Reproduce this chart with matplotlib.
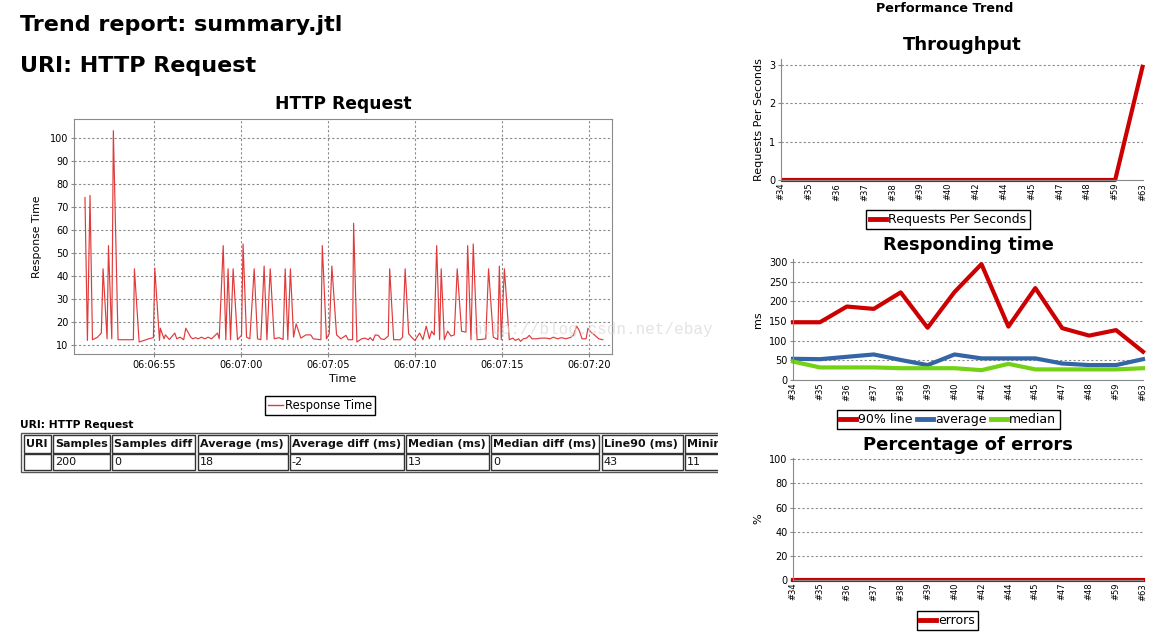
import matplotlib

matplotlib.use('Agg')
import matplotlib.pyplot as plt
from matplotlib.lines import Line2D
from matplotlib.patches import Rectangle
from matplotlib.ticker import FuncFormatter, MultipleLocator

# response time samples: seconds after 06:06:00, response time (ms)
rt_seconds = [
    51.03, 51.17, 51.32, 51.46, 51.72, 51.97, 52.07, 52.30, 52.38, 52.57,
    52.66, 52.93, 53.81, 53.87, 54.14, 54.69, 54.96, 55.04, 55.31, 55.36,
    55.57, 55.65, 55.88, 56.19, 56.30, 56.49, 56.70, 56.82, 57.11, 57.22,
    57.38, 57.53, 57.72, 57.91, 58.10, 58.30, 58.64, 58.74, 58.97, 59.12,
    59.25, 59.39, 59.54, 59.79, 60.02, 60.11, 60.31, 60.50, 60.75, 60.94,
    61.13, 61.32, 61.48, 61.67, 61.90, 62.18, 62.41, 62.53, 62.68, 62.83,
    63.01, 63.16, 63.43, 63.72, 64.00, 64.14, 64.58, 64.66, 64.90, 65.06,
    65.21, 65.48, 65.73, 66.02, 66.15, 66.40, 66.46, 66.65, 66.92, 67.11,
    67.30, 67.41, 67.57, 67.70, 67.87, 68.03, 68.22, 68.45, 68.53, 68.76,
    69.14, 69.27, 69.42, 69.62, 69.81, 69.98, 70.25, 70.44, 70.63, 70.81,
    70.94, 71.09, 71.23, 71.40, 71.49, 71.67, 71.86, 72.05, 72.24, 72.41,
    72.66, 72.91, 73.01, 73.20, 73.33, 73.55, 73.77, 74.05, 74.21, 74.48,
    74.74, 74.83, 74.94, 75.12, 75.40, 75.60, 75.75, 75.94, 76.05, 76.21,
    76.40, 76.55, 76.70, 76.94, 77.22, 77.51, 77.74, 77.93, 78.18, 78.39,
    78.66, 78.95, 79.08, 79.27, 79.42, 79.58, 79.81, 79.92, 80.09, 80.29,
    80.54, 80.77,
]
rt_values = [
    74.1, 12.0, 75.0, 12.3, 13.2, 15.2, 43.1, 12.7, 53.2, 12.7,
    103.1, 12.3, 12.3, 43.1, 11.3, 12.7, 13.2, 43.4, 12.0, 17.3,
    12.7, 14.4, 12.4, 15.2, 12.7, 13.4, 12.3, 17.3, 13.4, 12.7,
    13.2, 12.7, 13.4, 12.7, 13.4, 12.7, 15.2, 12.7, 53.2, 12.3,
    43.1, 12.3, 43.1, 12.3, 14.2, 53.9, 13.4, 12.7, 43.1, 12.7,
    12.3, 44.3, 12.3, 43.1, 12.7, 13.2, 12.4, 43.1, 12.3, 43.1,
    13.4, 19.2, 13.0, 14.4, 14.4, 12.7, 12.3, 53.2, 12.7, 14.9,
    44.3, 14.4, 12.7, 14.2, 12.3, 12.3, 62.9, 11.3, 12.7, 13.0,
    12.3, 13.2, 11.9, 14.4, 14.2, 12.7, 12.4, 13.9, 43.1, 12.3,
    12.3, 13.4, 43.1, 14.9, 13.2, 12.0, 15.2, 12.3, 18.2, 12.7,
    16.0, 14.4, 53.2, 12.3, 43.1, 12.3, 16.0, 13.9, 14.4, 43.1,
    16.0, 15.6, 53.2, 12.3, 53.9, 12.3, 12.4, 12.7, 43.1, 13.4,
    12.4, 44.3, 12.3, 43.1, 12.3, 13.0, 12.0, 12.7, 11.6, 12.7,
    13.0, 14.2, 12.7, 12.7, 13.0, 13.0, 12.7, 13.4, 12.7, 13.2,
    12.7, 13.4, 14.2, 18.2, 16.3, 12.7, 12.7, 17.3, 15.6, 14.4,
    12.7, 12.3,
]
rt_ticks = [55, 60, 65, 70, 75, 80]

# trend charts
builds = ['#34', '#35', '#36', '#37', '#38', '#39', '#40',
          '#42', '#44', '#45', '#47', '#48', '#59', '#63']
throughput = [0, 0, 0, 0, 0, 0, 0, 0, 0, 0, 0, 0, 0, 3.0]
line90 = [147, 147, 187, 181, 223, 133, 224, 295, 136, 234, 132, 113, 127, 72]
average = [54, 53, 59, 65, 51, 38, 65, 55, 55, 55, 42, 38, 38, 53]
median = [47, 32, 32, 32, 30, 30, 30, 25, 41, 27, 27, 27, 27, 30]
errors = [0, 0, 0, 0, 0, 0, 0, 0, 0, 0, 0, 0, 0, 0]

# summary table
table_columns = ['URI', 'Samples', 'Samples diff', 'Average (ms)',
                 'Average diff (ms)', 'Median (ms)', 'Median diff (ms)',
                 'Line90 (ms)', 'Minimum (ms)']
table_values = ['', '200', '0', '18', '-2', '13', '0', '43', '11']

# layout / styling
W, H = 1165, 635
GRID = '#8a8a8a'
RED = '#cc0000'
BLUE = '#3465a4'
GREEN = '#73d216'
col_widths = [27, 57, 83, 90, 114, 83, 108, 81, 90]

plt.rcParams['font.family'] = 'DejaVu Sans'
fig = plt.figure(figsize=(W / 100, H / 100), dpi=100)
fig.patch.set_facecolor('white')


def px_axes(left, top, right, bottom):
    return fig.add_axes([left / W, 1 - bottom / H, (right - left) / W, (bottom - top) / H])


def px_text(x, y, s, **kw):
    return fig.text(x / W, 1 - y / H, s, **kw)


def px_legend(ax, handles, labels, cx, cy, **kw):
    leg = ax.legend(handles, labels, loc='center', bbox_to_anchor=(cx / W, 1 - cy / H),
                    bbox_transform=fig.transFigure, frameon=True, fancybox=False,
                    edgecolor='black', framealpha=1, borderpad=0.25,
                    handletextpad=0.2, borderaxespad=0, **kw)
    leg.get_frame().set_linewidth(1.0)
    return leg


# headings
px_text(20, 31, 'Trend report: summary.jtl', fontsize=16, fontweight='bold', va='baseline')
px_text(20, 72, 'URI: HTTP Request', fontsize=16, fontweight='bold', va='baseline')
px_text(945, 12.5, 'Performance Trend', fontsize=9.2, fontweight='bold', ha='center', va='baseline')

# main response-time chart
ax = px_axes(74, 119, 612, 354)
ax.plot(rt_seconds, rt_values, color='#e03a3a', lw=0.85)
ax.set_xlim(50.4, 81.3)
ax.set_ylim(6.1, 108.2)
ax.yaxis.set_major_locator(MultipleLocator(10))
ax.set_xticks(rt_ticks)
ax.xaxis.set_major_formatter(FuncFormatter(
    lambda s, _: f'06:{6 + int(round(s)) // 60:02d}:{int(round(s)) % 60:02d}'))
ax.grid(True, color=GRID, linestyle=(0, (2, 2)), lw=0.8)
for sp in ax.spines.values():
    sp.set_color(GRID)
ax.tick_params(labelsize=7, length=2, color=GRID, pad=2)
ax.set_xlabel('Time', fontsize=8, labelpad=3)
ax.set_ylabel('Response Time', fontsize=7.8, labelpad=6)
ax.set_title('HTTP Request', fontsize=12.3, fontweight='bold', pad=7)
px_legend(ax, [Line2D([], [], color='#e03a3a', lw=1)], ['Response Time'], 320, 405.5,
          fontsize=8.3, handlelength=1.3)

# watermark
px_text(472, 334, 'http://blog.csdn.net/ebay', fontsize=11.5, family='Liberation Mono',
        color='#d8d8d8', alpha=0.7, va='baseline')


def trend_axes(box, ylim, yticks, ylabel, title, title_y):
    a = px_axes(*box)
    a.set_xlim(0, len(builds) - 1)
    a.set_ylim(*ylim)
    a.set_yticks(yticks)
    a.set_xticks(range(len(builds)))
    a.set_xticklabels(builds, rotation=90, fontsize=6)
    a.tick_params(axis='x', length=0, pad=2)
    a.tick_params(axis='y', labelsize=7, length=2, color=GRID, pad=2)
    a.grid(True, axis='y', color=GRID, linestyle=(0, (2, 2)), lw=0.8)
    a.spines['top'].set_visible(False)
    a.spines['right'].set_visible(False)
    a.spines['left'].set_color(GRID)
    a.spines['bottom'].set_color(GRID)
    a.set_ylabel(ylabel, fontsize=8, labelpad=4)
    px_text((box[0] + box[2]) / 2, title_y, title, fontsize=13, fontweight='bold',
            ha='center', va='baseline')
    return a


x = range(len(builds))

# throughput
a1 = trend_axes((781, 59, 1143, 180), (0, 3.15), [0, 1, 2, 3],
                'Requests Per Seconds', 'Throughput', 50)
a1.plot(x, throughput, color=RED, lw=3, clip_on=False, solid_capstyle='butt')
px_legend(a1, [Line2D([], [], color=RED, lw=3.5)], ['Requests Per Seconds'], 948, 219.5,
          fontsize=9, handlelength=1.3)

# responding time
a2 = trend_axes((793, 259, 1143, 380), (0, 308), [0, 50, 100, 150, 200, 250, 300],
                'ms', 'Responding time', 250)
a2.plot(x, line90, color=RED, lw=3, clip_on=False)
a2.plot(x, average, color=BLUE, lw=3, clip_on=False)
a2.plot(x, median, color=GREEN, lw=3, clip_on=False)
px_legend(a2, [Line2D([], [], color=c, lw=3.5) for c in (RED, BLUE, GREEN)],
          ['90% line', 'average', 'median'], 948, 419.5,
          fontsize=9, handlelength=1.3, ncol=3, columnspacing=0.3)

# errors
a3 = trend_axes((793, 458, 1143, 580), (0, 101), [0, 20, 40, 60, 80, 100],
                '%', 'Percentage of errors', 450)
a3.plot(x, errors, color=RED, lw=3, clip_on=False)
px_legend(a3, [Line2D([], [], color=RED, lw=3.5)], ['errors'], 947.5, 620.5,
          fontsize=9, handlelength=1.3)

# summary table
tab = px_axes(18, 415, 718, 476)
tab.set_xlim(18, 718)
tab.set_ylim(476, 415)
tab.axis('off')
tab.text(20, 428.5, 'URI: HTTP Request', fontsize=7.7, fontweight='bold', va='baseline')
tab.add_patch(Rectangle((21, 433), 760, 39, fill=False, ec='#555555', lw=1, clip_on=True))
left = 23.6
for name, value, w in zip(table_columns, table_values, col_widths):
    for top, height, s, weight in ((435, 17.5, name, 'bold'), (453.5, 16.5, value, 'normal')):
        tab.add_patch(Rectangle((left, top), w, height, fill=False, ec='#333333', lw=1,
                                clip_on=True))
        t = tab.text(left + 2, top + height / 2 + 0.5, s, fontsize=8, fontweight=weight,
                     va='center', ha='left', color='#111111')
        t.set_clip_on(True)
    left += w + 2.3

fig.savefig('out.png', dpi=100, facecolor='white')
